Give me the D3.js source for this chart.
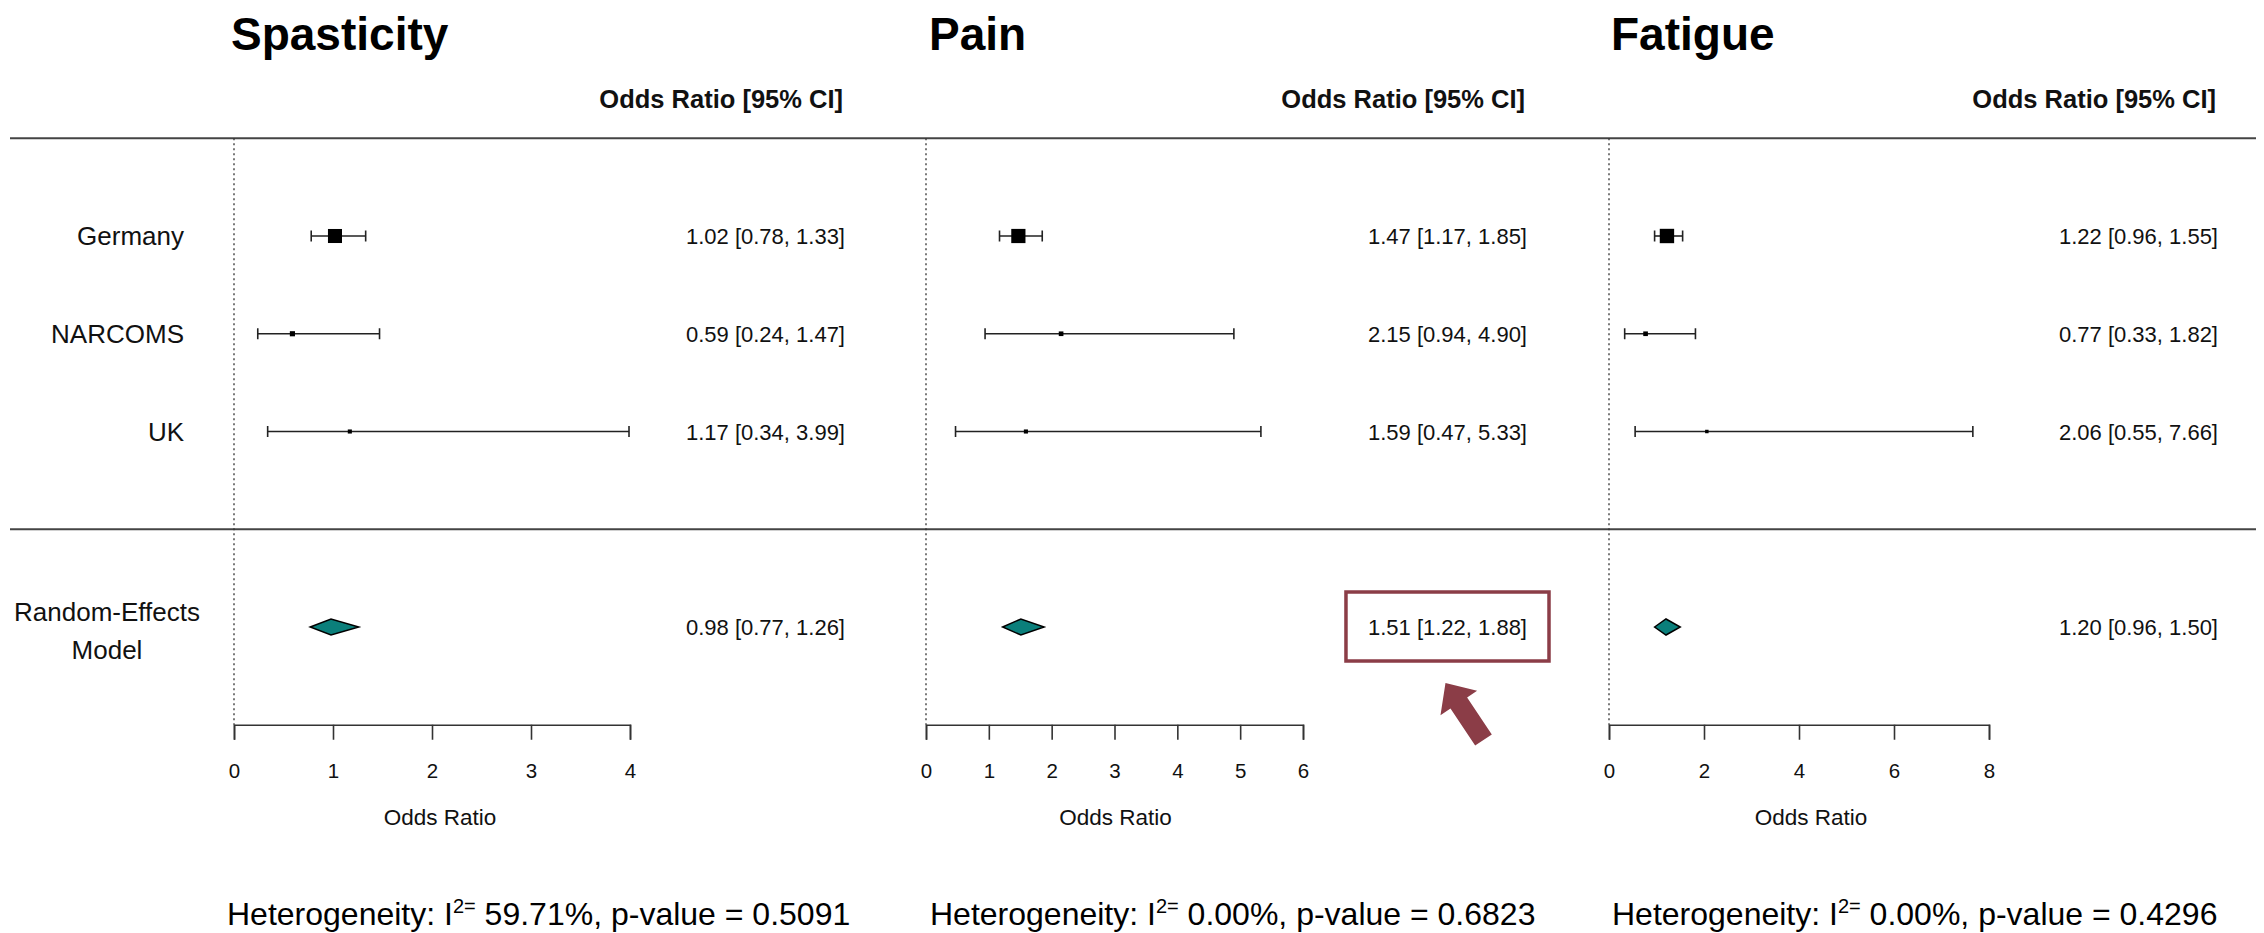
<!DOCTYPE html>
<html>
<head>
<meta charset="utf-8">
<script src="https://cdn.jsdelivr.net/npm/d3@7"></script>
<style>
  body { margin: 0; background: #fff; }
  svg { display: block; }
  text { font-family: "Liberation Sans", Arial, Helvetica, sans-serif; fill: #111; }
</style>
</head>
<body>
<svg id="chart" width="2264" height="933"></svg>
<script>
// ---- data ----
const outcomes = ["Spasticity", "Pain", "Fatigue"];
const studies = ["Germany", "NARCOMS", "UK"];

const spasticityOR = [1.02, 0.59, 1.17];
const spasticityLo = [0.78, 0.24, 0.34];
const spasticityHi = [1.33, 1.47, 3.99];

const painOR = [1.47, 2.15, 1.59];
const painLo = [1.17, 0.94, 0.47];
const painHi = [1.85, 4.90, 5.33];

const fatigueOR = [1.22, 0.77, 2.06];
const fatigueLo = [0.96, 0.33, 0.55];
const fatigueHi = [1.55, 1.82, 7.66];

// study weights (%) used for square sizes
const spasticityWeight = [82, 11, 7];
const painWeight = [84, 9, 7];
const fatigueWeight = [86, 9, 5];

// random-effects pooled estimates
const pooledOR = [0.98, 1.51, 1.20];
const pooledLo = [0.77, 1.22, 0.96];
const pooledHi = [1.26, 1.88, 1.50];

const i2Values = [59.71, 0.00, 0.00];
const pValues = [0.5091, 0.6823, 0.4296];

const axisMax = [4, 6, 8];
const tickValues = [[0, 1, 2, 3, 4], [0, 1, 2, 3, 4, 5, 6], [0, 2, 4, 6, 8]];

const pooledLabel = ["Random-Effects", "Model"];
const highlightedPanel = 1;

// ---- layout ----
const panels = [
  { or: spasticityOR, lo: spasticityLo, hi: spasticityHi, w: spasticityWeight,
    x0: 234, x1: 630, valRight: 845, titleX: 231, hetX: 227, xlabDx: 8 },
  { or: painOR, lo: painLo, hi: painHi, w: painWeight,
    x0: 926, x1: 1303, valRight: 1527, titleX: 929, hetX: 930, xlabDx: 1 },
  { or: fatigueOR, lo: fatigueLo, hi: fatigueHi, w: fatigueWeight,
    x0: 1609, x1: 1989, valRight: 2218, titleX: 1611, hetX: 1612, xlabDx: 12 }
];

const svg = d3.select("#chart");
const ink = "#222";
const accent = "#8B3D47";
const teal = "#0b7f7b";
const f2 = d3.format(".2f");
const f4 = d3.format(".4f");

// row positions: studies at rows 5,4,3; pooled at row 1; axis at row 0
const y = d3.scaleLinear().domain([0, 6]).range([724.75, 138.25]);
const studyRows = [5, 4, 3];
const pooledRow = 1;

const size = d3.scaleSqrt().domain([0, 100]).range([0, 15.5]);

// horizontal rules across all panels
[6, 2].forEach(r => {
  svg.append("line")
    .attr("x1", 10).attr("x2", 2256)
    .attr("y1", y(r)).attr("y2", y(r))
    .attr("stroke", "#444").attr("stroke-width", 2);
});

// study labels (left column)
svg.append("g").selectAll("text").data(studies).join("text")
  .attr("x", 184).attr("y", (d, i) => y(studyRows[i]) + 9)
  .attr("text-anchor", "end").attr("font-size", 26)
  .text(d => d);

svg.append("text")
  .attr("x", 107).attr("y", 621)
  .attr("text-anchor", "middle").attr("font-size", 26)
  .selectAll("tspan").data(pooledLabel).join("tspan")
  .attr("x", 107).attr("dy", (d, i) => i === 0 ? 0 : 38)
  .text(d => d);

const ciText = (o, l, h) => `${f2(o)} [${f2(l)}, ${f2(h)}]`;

panels.forEach((p, k) => {
  const x = d3.scaleLinear().domain([0, axisMax[k]]).range([p.x0, p.x1]);
  const g = svg.append("g");

  // title
  g.append("text")
    .attr("x", p.titleX).attr("y", 50)
    .attr("font-size", 46).attr("font-weight", "bold").style("fill", "#000")
    .text(outcomes[k]);

  // column header
  g.append("text")
    .attr("x", p.valRight - 2).attr("y", 108)
    .attr("text-anchor", "end").attr("font-size", 25.5).attr("font-weight", "bold")
    .text("Odds Ratio [95% CI]");

  // reference line at OR = 0
  g.append("line")
    .attr("x1", x(0)).attr("x2", x(0))
    .attr("y1", y(6)).attr("y2", y(0))
    .attr("stroke", "#333").attr("stroke-width", 1.3)
    .attr("stroke-dasharray", "2,3");

  // study estimates
  const rows = studies.map((s, i) => ({ or: p.or[i], lo: p.lo[i], hi: p.hi[i], w: p.w[i], row: studyRows[i] }));
  const sg = g.append("g").selectAll("g").data(rows).join("g");
  sg.append("line")
    .attr("x1", d => x(d.lo)).attr("x2", d => x(d.hi))
    .attr("y1", d => y(d.row)).attr("y2", d => y(d.row))
    .attr("stroke", ink).attr("stroke-width", 1.6);
  ["lo", "hi"].forEach(key => {
    sg.append("line")
      .attr("x1", d => x(d[key])).attr("x2", d => x(d[key]))
      .attr("y1", d => y(d.row) - 5.5).attr("y2", d => y(d.row) + 5.5)
      .attr("stroke", ink).attr("stroke-width", 1.6);
  });
  sg.append("rect")
    .attr("x", d => x(d.or) - size(d.w) / 2)
    .attr("y", d => y(d.row) - size(d.w) / 2)
    .attr("width", d => size(d.w)).attr("height", d => size(d.w))
    .attr("fill", "#000");
  sg.append("text")
    .attr("x", p.valRight).attr("y", d => y(d.row) + 8)
    .attr("text-anchor", "end").attr("font-size", 22)
    .text(d => ciText(d.or, d.lo, d.hi));

  // pooled diamond
  const py = y(pooledRow);
  g.append("path")
    .attr("d", d3.line()([
      [x(pooledLo[k]), py], [x(pooledOR[k]), py - 8],
      [x(pooledHi[k]), py], [x(pooledOR[k]), py + 8]
    ]) + "Z")
    .attr("fill", teal).attr("stroke", "#000").attr("stroke-width", 1.5)
    .attr("stroke-linejoin", "miter");

  const pooledText = g.append("text")
    .attr("x", p.valRight).attr("y", py + 8)
    .attr("text-anchor", "end").attr("font-size", 22)
    .text(ciText(pooledOR[k], pooledLo[k], pooledHi[k]));

  // x axis
  const axis = d3.axisBottom(x).tickValues(tickValues[k]).tickSize(15).tickPadding(24).tickFormat(d3.format("d"));
  const ag = g.append("g").attr("transform", `translate(0,${y(0)})`).call(axis);
  ag.select(".domain").attr("stroke", "#333").attr("stroke-width", 1.6);
  ag.selectAll(".tick line").attr("stroke", "#333").attr("stroke-width", 1.6);
  ag.selectAll(".tick text").attr("font-size", 20.5)
    .attr("font-family", "'Liberation Sans', Arial, sans-serif").attr("fill", "#111");

  g.append("text")
    .attr("x", (p.x0 + p.x1) / 2 + p.xlabDx).attr("y", 825)
    .attr("text-anchor", "middle").attr("font-size", 22.5)
    .text("Odds Ratio");

  // heterogeneity statistics
  const het = g.append("text")
    .attr("x", p.hetX).attr("y", 925)
    .attr("font-size", 32).style("fill", "#000");
  het.append("tspan").text("Heterogeneity: I");
  het.append("tspan").attr("dy", -12).attr("font-size", 20).text("2=");
  het.append("tspan").attr("dy", 12).text(` ${f2(i2Values[k])}%, p-value = ${f4(pValues[k])}`);

  // highlight the pooled result in the Pain panel
  if (k === highlightedPanel) {
    const bb = pooledText.node().getBBox();
    const bx0 = bb.x - 22, bx1 = bb.x + bb.width + 22;
    const by0 = py - 35, by1 = py + 34;
    g.append("rect")
      .attr("x", bx0).attr("y", by0)
      .attr("width", bx1 - bx0).attr("height", by1 - by0)
      .attr("fill", "none").attr("stroke", accent).attr("stroke-width", 3.5);

    // block arrow pointing up-left at the box
    const tip = [(bx0 + bx1) / 2 - 2, by1 + 22];
    const tail = [tip[0] + 38, tip[1] + 57];
    const dx = tip[0] - tail[0], dy = tip[1] - tail[1];
    const len = Math.hypot(dx, dy);
    const ux = dx / len, uy = dy / len, nx = -uy, ny = ux;
    const headLen = 24, headHalf = 22, shaftHalf = 10;
    const base = [tip[0] - ux * headLen, tip[1] - uy * headLen];
    const pts = [
      tip,
      [base[0] + nx * headHalf, base[1] + ny * headHalf],
      [base[0] + nx * shaftHalf, base[1] + ny * shaftHalf],
      [tail[0] + nx * shaftHalf, tail[1] + ny * shaftHalf],
      [tail[0] - nx * shaftHalf, tail[1] - ny * shaftHalf],
      [base[0] - nx * shaftHalf, base[1] - ny * shaftHalf],
      [base[0] - nx * headHalf, base[1] - ny * headHalf]
    ];
    g.append("path").attr("d", d3.line()(pts) + "Z").attr("fill", accent);
  }
});
</script>
</body>
</html>
